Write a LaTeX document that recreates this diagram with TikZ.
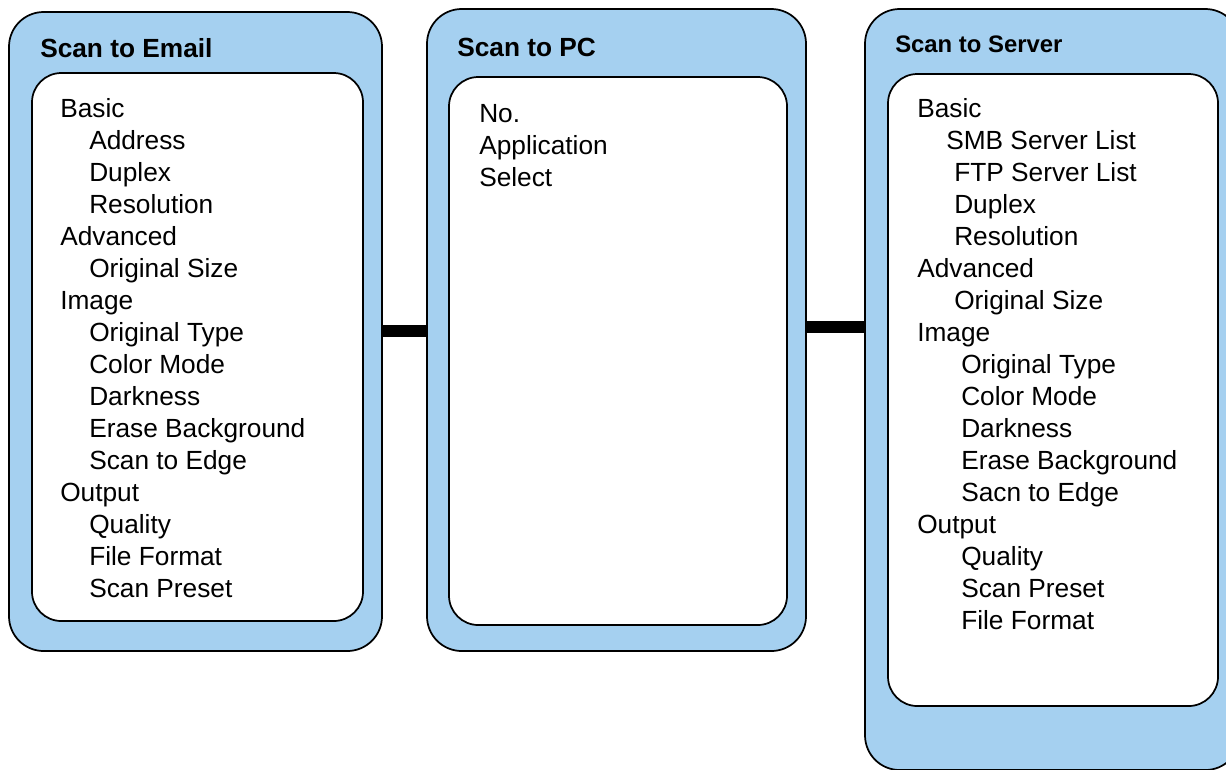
\documentclass[tikz,border=0pt]{standalone}
\usepackage{fontspec}
\setmainfont{Liberation Sans}
\definecolor{panelblue}{HTML}{A5D0F0}
\begin{document}
\begin{tikzpicture}[x=0.75pt,y=-0.75pt,
  outerbox/.style={draw, line width=1.3pt, fill=panelblue, rounded corners=26pt, inner sep=0pt},
  innerbox/.style={draw, line width=1.3pt, fill=white, rounded corners=22pt, inner sep=0pt},
  titletext/.style={anchor=base west, inner sep=0pt, font=\bfseries\fontsize{19.7}{24}\selectfont},
  smalltitle/.style={anchor=base west, inner sep=0pt, font=\bfseries\fontsize{17.9}{22}\selectfont},
  item/.style={anchor=base west, inner sep=0pt, font=\fontsize{19.7}{24}\selectfont},
  bar/.style={line width=9pt}]
\useasboundingbox (0,0) rectangle (1226,769);
\clip (0,0) rectangle (1226,769);
% panels
\node[outerbox, minimum width={373*0.75pt}, minimum height={639*0.75pt}] (p1) at (195.5,331.5) {};
\node[innerbox, minimum width={331*0.75pt}, minimum height={548*0.75pt}] (i1) at (197.5,347) {};
\node[outerbox, minimum width={379*0.75pt}, minimum height={642*0.75pt}] (p2) at (616.5,330) {};
\node[innerbox, minimum width={338*0.75pt}, minimum height={548*0.75pt}] (i2) at (618,351) {};
\node[outerbox, minimum width={375*0.75pt}, minimum height={761*0.75pt}] (p3) at (1052.5,389.5) {};
\node[innerbox, minimum width={330*0.75pt}, minimum height={632*0.75pt}] (i3) at (1053,390) {};
% titles
\node[titletext] (t1) at (40,57) {Scan to Email};
\node[titletext] (t2) at (457,56) {Scan to PC};
\node[smalltitle] (t3) at (895,52.5) {Scan to Server};
% connectors
\coordinate (c1) at (0,331);
\coordinate (c2) at (0,327);
\draw[bar] (p1.east |- c1) -- (p2.west |- c1);
\draw[bar] (p2.east |- c2) -- (p3.west |- c2);
% panel 1 items
\foreach \t/\dx [count=\i from 0] in {Basic/0, Address/29, Duplex/29, Resolution/29,
  Advanced/0, Original Size/29, Image/0, Original Type/29, Color Mode/29, Darkness/29,
  Erase Background/29, Scan to Edge/29, Output/0, Quality/29, File Format/29, Scan Preset/29}
  \node[item] (ea\i) at (60+\dx,117.5+32*\i) {\t};
% panel 2 items
\foreach \t [count=\i from 0] in {No., Application, Select}
  \node[item] (pc\i) at (479,122+32*\i) {\t};
% panel 3 items
\foreach \t/\dx [count=\i from 0] in {Basic/0, SMB Server List/29, FTP Server List/37, Duplex/37,
  Resolution/37, Advanced/0, Original Size/37, Image/0, Original Type/44, Color Mode/44,
  Darkness/44, Erase Background/44, Sacn to Edge/44, Output/0, Quality/44, Scan Preset/44, File Format/44}
  \node[item] (sv\i) at (917+\dx,117+32*\i) {\t};
\end{tikzpicture}
\end{document}
